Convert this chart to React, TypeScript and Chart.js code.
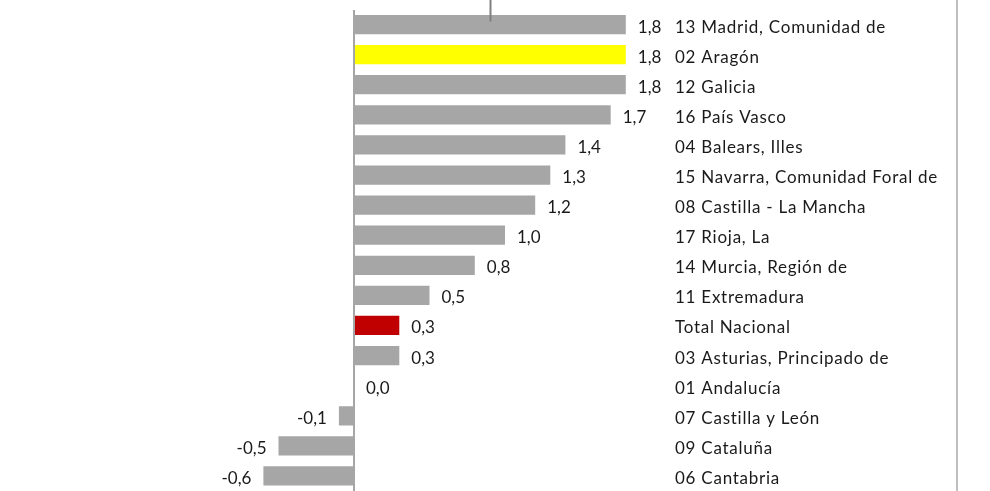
import React, { useEffect, useRef } from "react";
import { Chart, registerables } from "chart.js";

Chart.register(...registerables);

const categories: string[] = [
  "13 Madrid, Comunidad de",
  "02 Aragón",
  "12 Galicia",
  "16 País Vasco",
  "04 Balears, Illes",
  "15 Navarra, Comunidad Foral de",
  "08 Castilla - La Mancha",
  "17 Rioja, La",
  "14 Murcia, Región de",
  "11 Extremadura",
  "Total Nacional",
  "03 Asturias, Principado de",
  "01 Andalucía",
  "07 Castilla y León",
  "09 Cataluña",
  "06 Cantabria",
];

const values: number[] = [1.8, 1.8, 1.8, 1.7, 1.4, 1.3, 1.2, 1.0, 0.8, 0.5, 0.3, 0.3, 0.0, -0.1, -0.5, -0.6];

const barColors: string[] = [
  "#a6a6a6", "#ffff00", "#a6a6a6", "#a6a6a6", "#a6a6a6", "#a6a6a6", "#a6a6a6", "#a6a6a6",
  "#a6a6a6", "#a6a6a6", "#c00000", "#a6a6a6", "#a6a6a6", "#a6a6a6", "#a6a6a6", "#a6a6a6",
];

const xMin = -2;
const xMax = 2;
const markerLineValue = 0.9;

const FONT = "Lato, 'Open Sans', sans-serif";
const TEXT_COLOR = "#1a1a1a";

const fmt = (v: number) => v.toFixed(1).replace(".", ",");

const spacingPlugin = {
  id: "spacing",
  beforeDraw(chart: any) {
    chart.ctx.letterSpacing = "0.75px";
  },
  beforeDatasetsDraw(chart: any) {
    chart.ctx.letterSpacing = "0px";
  },
};

const labelsPlugin = {
  id: "valueLabels",
  afterDatasetsDraw(chart: any) {
    const ctx = chart.ctx;
    const meta = chart.getDatasetMeta(0);
    ctx.save();
    ctx.letterSpacing = "0px";
    ctx.font = `17px ${FONT}`;
    ctx.fillStyle = TEXT_COLOR;
    ctx.textBaseline = "middle";
    meta.data.forEach((el: any, i: number) => {
      const v = values[i];
      if (v < 0) {
        ctx.textAlign = "right";
        ctx.fillText(fmt(v), el.x - 12, el.y + 2.5);
      } else {
        ctx.textAlign = "left";
        ctx.fillText(fmt(v), el.x + 12, el.y + 2.5);
      }
    });
    ctx.restore();
  },
};

const decorPlugin = {
  id: "decor",
  afterDraw(chart: any) {
    const ctx = chart.ctx;
    const xs = chart.scales.x;
    const ys = chart.scales.y;
    ctx.save();
    const mx = Math.round(xs.getPixelForValue(markerLineValue)) + 0.5;
    ctx.strokeStyle = "#7f7f7f";
    ctx.lineWidth = 2;
    ctx.beginPath();
    ctx.moveTo(mx, 0);
    ctx.lineTo(mx, ys.getPixelForValue(0) - 3);
    ctx.stroke();
    ctx.strokeStyle = "#bfbfbf";
    ctx.lineWidth = 2;
    ctx.beginPath();
    ctx.moveTo(957, 0);
    ctx.lineTo(957, chart.height);
    ctx.stroke();
    ctx.restore();
  },
};

export default function App() {
  const ref = useRef<HTMLCanvasElement | null>(null);
  useEffect(() => {
    document.body.style.margin = "0";
    if (!ref.current) return;
    const chart = new Chart(ref.current, {
      type: "bar",
      data: {
        labels: categories,
        datasets: [
          {
            data: values,
            backgroundColor: barColors,
            borderWidth: 0,
            categoryPercentage: 1,
            barPercentage: 0.64,
          },
        ],
      },
      options: {
        indexAxis: "y",
        responsive: false,
        animation: false,
        maintainAspectRatio: false,
        layout: { padding: { left: 52, top: 9.5, right: 0, bottom: 0 } },
        plugins: { legend: { display: false }, tooltip: { enabled: false } },
        scales: {
          x: {
            min: xMin,
            max: xMax,
            position: "top",
            ticks: { display: false },
            border: { display: false },
            grid: {
              drawTicks: false,
              lineWidth: 2,
              color: (c: any) => (c.tick && c.tick.value === 0 ? "#a6a6a6" : "rgba(0,0,0,0)"),
            },
            afterFit: (scale: any) => {
              scale.height = 0;
              scale.paddingLeft = 0;
              scale.paddingRight = 0;
            },
          },
          y: {
            position: "right",
            grid: { display: false, drawTicks: false },
            border: { display: false },
            ticks: {
              padding: 19,
              labelOffset: 2.5,
              color: TEXT_COLOR,
              font: { family: FONT, size: 17 },
              autoSkip: false,
            },
            afterFit: (scale: any) => {
              scale.width = 990 - 656;
              scale.paddingTop = 0;
              scale.paddingBottom = 0;
            },
          },
        },
      },
      plugins: [spacingPlugin, labelsPlugin, decorPlugin],
    });
    return () => chart.destroy();
  }, []);
  return <canvas ref={ref} width={990} height={491} style={{ display: "block" }} />;
}
